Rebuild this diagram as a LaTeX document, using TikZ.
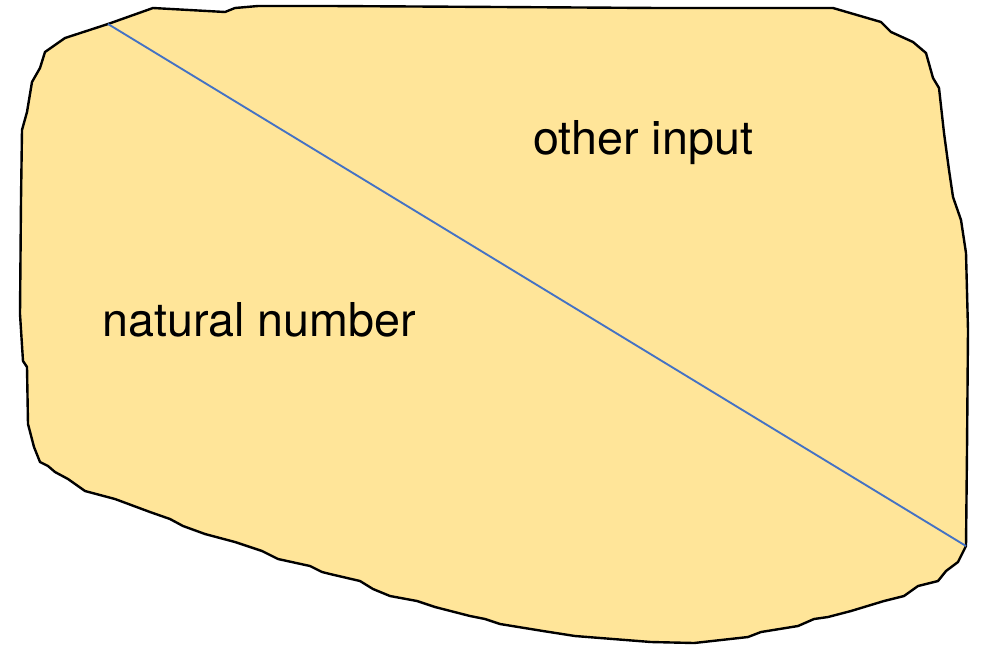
\documentclass[tikz,border=0pt]{standalone}
\usepackage{fontspec}
\setmainfont{TeX Gyre Heros}
\definecolor{blobfill}{HTML}{FFE599}
\definecolor{splitblue}{HTML}{4472C4}
\tikzset{
  blob/.style={draw=black, fill=blobfill, line width=1.8pt, line join=round},
  divider/.style={draw=splitblue, line width=1.4pt},
  label/.style={inner sep=0pt, font=\fontsize{35}{42}\selectfont, anchor=base west}
}
\begin{document}
\begin{tikzpicture}[x=0.75pt, y=-0.75pt]
\useasboundingbox (0,0) rectangle (981,644);
\draw[blob] (153,8) -- (225,12) -- (235,8) -- (258,6) -- (330,6) -- (500,7) -- (660,8) -- (833,8)
  -- (881,22) -- (891,32) -- (913,42) -- (926,53) -- (933,78) -- (939,88) -- (944,133)
  -- (949,170) -- (953,197) -- (961,220) -- (966,253) -- (968,330) -- (967,450) -- (966,546)
  -- (958,562) -- (946,571) -- (938,581) -- (918,586) -- (904,596) -- (884,601) -- (851,611)
  -- (828,617) -- (814,619) -- (798,626) -- (761,632) -- (748,637) -- (694,643) -- (651,642)
  -- (575,636) -- (543,631) -- (500,624) -- (485,619) -- (470,616) -- (435,607) -- (417,601)
  -- (390,596) -- (373,589) -- (360,581) -- (330,574) -- (322,572) -- (310,566) -- (278,559)
  -- (262,551) -- (235,542) -- (205,534) -- (183,526) -- (170,519) -- (150,512) -- (115,499)
  -- (85,491) -- (68,479) -- (55,472) -- (48,466) -- (40,462) -- (34,447) -- (28,424)
  -- (27,367) -- (23,361) -- (20,314) -- (21,200) -- (22,130) -- (27,112) -- (32,82)
  -- (40,68) -- (45,52) -- (65,38) -- (108,24) -- cycle;
\coordinate (topend) at (108,24);
\coordinate (botend) at (966,546);
\draw[divider] (topend) -- (botend);
\node[label] (other) at (533,154) {other input};
\node[label] (natural) at (102,336) {natural number};
\end{tikzpicture}
\end{document}
